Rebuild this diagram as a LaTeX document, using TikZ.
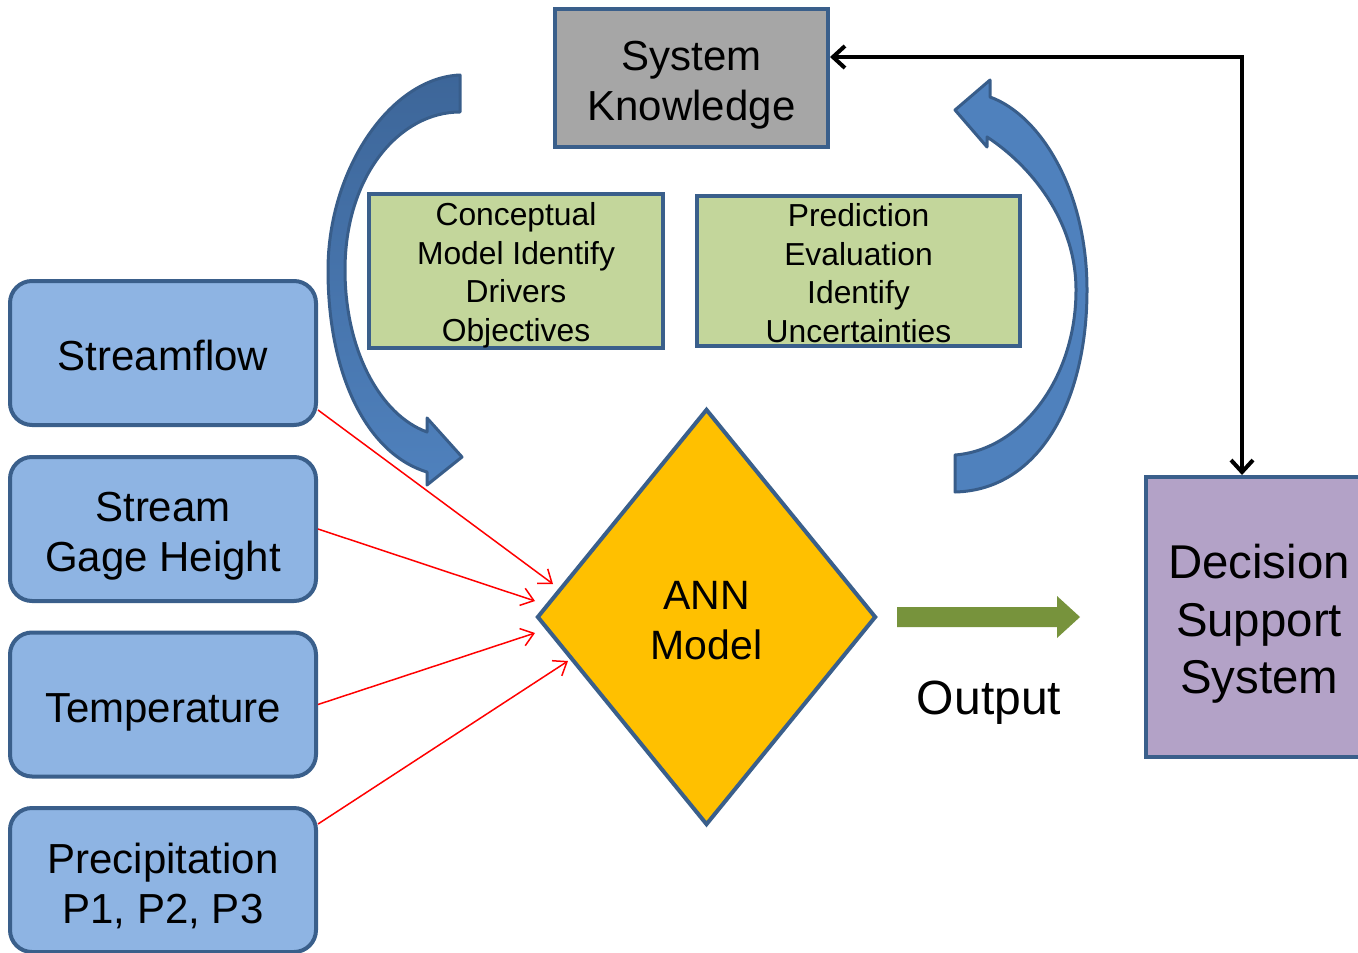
\documentclass[tikz,border=0pt]{standalone}
\usepackage{fontspec}
\setmainfont{Liberation Sans}
\usetikzlibrary{shapes.geometric,arrows.meta,calc}
\definecolor{bordb}{HTML}{3A5F8B}
\definecolor{boxblue}{HTML}{8EB4E3}
\definecolor{skgray}{HTML}{A6A6A6}
\definecolor{grn}{HTML}{C3D69B}
\definecolor{purp}{HTML}{B3A2C7}
\definecolor{gold}{HTML}{FFC000}
\definecolor{outgreen}{HTML}{77933C}
\definecolor{arrdark}{HTML}{3D6699}
\definecolor{arrlight}{HTML}{4F81BD}
\definecolor{arrbord}{HTML}{385D8A}
\newcommand\liftline[1]{\rule{0pt}{\dimexpr 0.74em+#1\relax}}
\begin{document}
\begin{tikzpicture}[x=0.5pt,y=-0.5pt,
  inbox/.style={draw=bordb, line width=2pt, fill=boxblue, rounded corners=11pt,
    minimum width=153pt, minimum height=72pt, inner sep=0pt, align=center,
    font=\fontsize{21}{25}\selectfont},
  greenbox/.style={draw=bordb, line width=2pt, fill=grn, minimum height=75pt,
    inner sep=0pt, align=center, font=\fontsize{15.9}{19.3}\selectfont},
  redarrow/.style={draw=red, line width=0.75pt, -{Straight Barb[length=6pt,width=9pt]}},
  blkarrow/.style={draw=black, line width=2pt, {Straight Barb[length=6pt,width=11pt]}-{Straight Barb[length=6pt,width=11pt]}},
  curvearrow/.style={draw=arrbord, line width=1.5pt, line join=round}
]
\clip (0,0) rectangle (1358,952);

% System knowledge
\node[draw=bordb, line width=2pt, fill=skgray, minimum width=136.5pt, minimum height=69pt,
  inner sep=0pt, align=center, font=\fontsize{21}{25}\selectfont] (sk) at (691.5,78) {\liftline{6.5pt}System\\Knowledge};

% green boxes
\node[greenbox, minimum width=147pt] (cm) at (516,271) {\liftline{4pt}Conceptual\\Model Identify\\Drivers\\Objectives};
\node[greenbox, minimum width=161.5pt] (pe) at (858.5,271) {\liftline{2pt}Prediction\\Evaluation\\Identify\\Uncertainties};

% input boxes
\node[inbox] (sf) at (163,353) {\liftline{2pt}Streamflow};
\node[inbox] (gh) at (163,529) {\liftline{6pt}Stream\\Gage Height};
\node[inbox] (tp) at (163,704.5) {\liftline{7pt}Temperature};
\node[inbox] (pr) at (163,880) {\liftline{5.5pt}Precipitation\\P1, P2, P3};

% ANN diamond
\node[diamond, draw=bordb, line width=2pt, fill=gold, minimum width=169.5pt, minimum height=208pt,
  inner sep=0pt, align=center, font=\fontsize{20.5}{25}\selectfont] (ann) at (706.5,617) {\liftline{3pt}ANN\\Model};

% DSS
\node[draw=bordb, line width=2pt, fill=purp, minimum width=113pt, minimum height=140pt,
  inner sep=0pt, align=center, font=\fontsize{23.7}{28.75}\selectfont] (dss) at (1259,617) {\liftline{6.5pt}Decision\\Support\\System};

% output arrow + label
\fill[outgreen] (897,607) -- (1057,607) -- (1057,596) -- (1080,617) -- (1057,638) -- (1057,627) -- (897,627) -- cycle;
\node[font=\fontsize{24}{28}\selectfont] (out) at (989,703) {Output};

% red connectors
\draw[redarrow] ([yshift=-28.5pt]sf.east) -- ([xshift=9pt,yshift=16.5pt]ann.west);
\draw[redarrow] (gh.east) -- ([yshift=8pt]ann.west);
\draw[redarrow] (tp.east) -- ([yshift=-8pt]ann.west);
\draw[redarrow] ([yshift=28pt]pr.east) -- ([xshift=16.5pt,yshift=-22pt]ann.west);

% feedback black arrow
\coordinate (corner) at (1242,57);
\draw[blkarrow] (sk.east |- corner) -- (corner) -- (corner |- dss.north);

% left curved arrow
\path[curvearrow, top color=arrdark, bottom color=arrlight]
  (460,75) .. controls (390,78) and (328,170) .. (328,270)
  .. controls (328,380) and (370,455) .. (427,472)
  -- (427,485) -- (462,457) -- (427,418) -- (427,432)
  .. controls (380,415) and (345,350) .. (345,270)
  .. controls (345,175) and (400,112) .. (460,112) -- cycle;

% right curved arrow
\path[curvearrow, fill=arrlight]
  (955,492) .. controls (1040,490) and (1087,400) .. (1087,290)
  .. controls (1087,190) and (1040,115) .. (990,97)
  -- (990,80) -- (955,110) -- (987,147) -- (987,137)
  .. controls (1030,165) and (1076,220) .. (1076,290)
  .. controls (1076,380) and (1020,450) .. (955,455) -- cycle;
\end{tikzpicture}
\end{document}
